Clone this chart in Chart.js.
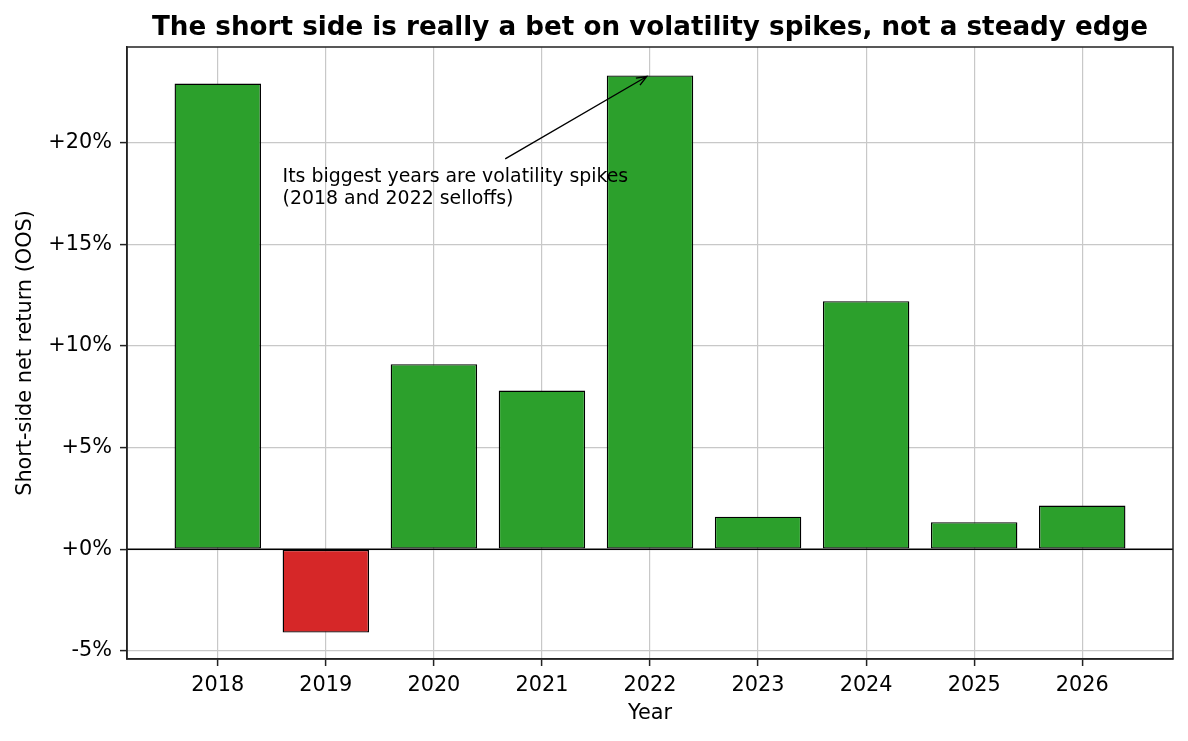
<!DOCTYPE html>
<html>
<head>
<meta charset="utf-8">
<script src="https://cdn.jsdelivr.net/npm/chart.js@4"></script>
<style>
  html, body { margin: 0; padding: 0; background: #fff; }
</style>
</head>
<body>
<canvas id="chart" width="1188" height="741"></canvas>
<script>
// data
const years = ['2018', '2019', '2020', '2021', '2022', '2023', '2024', '2025', '2026'];
const returns = [22.9, -4.1, 9.1, 7.8, 23.3, 1.6, 12.2, 1.33, 2.15];
const yTicks = [-5, 0, 5, 10, 15, 20];
const yRange = [-5.4, 24.7];
const xRange = [-0.84, 8.84];

const titleText = 'The short side is really a bet on volatility spikes, not a steady edge';
const noteLines = ['Its biggest years are volatility spikes', '(2018 and 2022 selloffs)'];
const noteAt = [0.6, 17.0];       // left / baseline of last line (data coords)
const arrowFrom = [2.66, 19.2];
const arrowTo = [3.97, 23.25];

const GREEN = '#2ca02c';
const RED = '#d62728';
const FONT = "'DejaVu Sans', sans-serif";

Chart.defaults.font.family = FONT;
Chart.defaults.color = '#000';

const extras = {
  id: 'extras',
  afterDraw (chart) {
    const ctx = chart.ctx;
    const a = chart.chartArea;
    const x = chart.scales.x;
    const y = chart.scales.y;
    ctx.save();

    // zero line
    ctx.strokeStyle = '#000';
    ctx.lineWidth = 1.6;
    ctx.beginPath();
    ctx.moveTo(a.left, y.getPixelForValue(0));
    ctx.lineTo(a.right, y.getPixelForValue(0));
    ctx.stroke();

    // frame
    ctx.strokeStyle = '#222';
    ctx.lineWidth = 1.5;
    ctx.strokeRect(a.left, a.top, a.right - a.left, a.bottom - a.top);

    // annotation arrow
    const x1 = x.getPixelForValue(arrowFrom[0]), y1 = y.getPixelForValue(arrowFrom[1]);
    const x2 = x.getPixelForValue(arrowTo[0]), y2 = y.getPixelForValue(arrowTo[1]);
    const ang = Math.atan2(y2 - y1, x2 - x1);
    ctx.strokeStyle = '#000';
    ctx.lineWidth = 1.4;
    ctx.beginPath();
    ctx.moveTo(x1, y1);
    ctx.lineTo(x2, y2);
    ctx.moveTo(x2 - 11 * Math.cos(ang - 0.38), y2 - 11 * Math.sin(ang - 0.38));
    ctx.lineTo(x2, y2);
    ctx.lineTo(x2 - 11 * Math.cos(ang + 0.38), y2 - 11 * Math.sin(ang + 0.38));
    ctx.stroke();

    // annotation text
    ctx.fillStyle = '#000';
    ctx.font = '18.9px ' + FONT;
    ctx.textAlign = 'left';
    ctx.textBaseline = 'alphabetic';
    const tx = x.getPixelForValue(noteAt[0]);
    const ty = y.getPixelForValue(noteAt[1]);
    noteLines.forEach((line, i) => {
      ctx.fillText(line, tx, ty - (noteLines.length - 1 - i) * 22);
    });

    // title
    ctx.font = 'bold 26.2px ' + FONT;
    ctx.textAlign = 'center';
    ctx.fillText(titleText, (a.left + a.right) / 2, 35);
    ctx.restore();
  }
};

new Chart(document.getElementById('chart'), {
  type: 'bar',
  data: {
    datasets: [{
      data: returns.map((v, i) => ({ x: i, y: v })),
      backgroundColor: returns.map(v => v < 0 ? RED : GREEN),
      borderColor: '#000',
      borderWidth: 1.4,
      borderSkipped: false,
      barPercentage: 0.8,
      categoryPercentage: 1
    }]
  },
  options: {
    responsive: false,
    animation: false,
    layout: { padding: { top: 47, right: 15, bottom: 0, left: 0 } },
    plugins: { legend: { display: false }, tooltip: { enabled: false }, title: { display: false } },
    scales: {
      x: {
        type: 'linear',
        offset: false,
        z: 1,
        min: xRange[0],
        max: xRange[1],
        afterFit (s) { s.height = 82; },
        afterBuildTicks (s) { s.ticks = years.map((_, i) => ({ value: i })); },
        ticks: {
          font: { size: 20.8 },
          color: '#000',
          padding: 7,
          maxRotation: 0,
          autoSkip: false,
          callback: v => years[v]
        },
        grid: { offset: false, color: '#c8c8c8', lineWidth: 1.2, tickLength: 7, tickColor: '#222', tickWidth: 1.5 },
        border: { display: true, color: '#222', width: 1.5 },
        title: { display: true, text: 'Year', font: { size: 20.8 }, color: '#000', padding: { top: 0, bottom: 15 } }
      },
      y: {
        z: 1,
        min: yRange[0],
        max: yRange[1],
        afterFit (s) { s.width = 127; },
        afterBuildTicks (s) { s.ticks = yTicks.map(v => ({ value: v })); },
        ticks: {
          font: { size: 20.8 },
          color: '#000',
          padding: 8,
          callback: v => (v < 0 ? '-' : '+') + Math.abs(v) + '%'
        },
        grid: { color: '#c8c8c8', lineWidth: 1.2, tickLength: 7, tickColor: '#222', tickWidth: 1.5 },
        border: { display: true, color: '#222', width: 1.5 },
        title: { display: true, text: 'Short-side net return (OOS)', font: { size: 20.8 }, color: '#000', padding: { top: 13, bottom: 0 } }
      }
    }
  },
  plugins: [extras]
});
</script>
</body>
</html>
